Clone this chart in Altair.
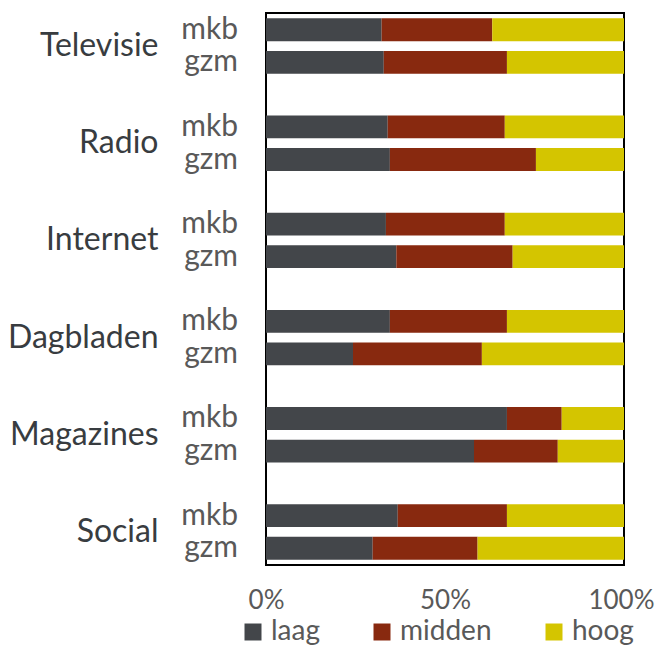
import altair as alt
import pandas as pd

categories = ["Televisie", "Radio", "Internet", "Dagbladen", "Magazines", "Social"]
groups = ["mkb", "gzm"]
levels = ["laag", "midden", "hoog"]

laag_mkb = [32.3, 34.0, 33.5, 34.6, 67.3, 36.8]
midden_mkb = [30.9, 32.7, 33.2, 32.7, 15.3, 30.5]
hoog_mkb = [36.8, 33.3, 33.3, 32.7, 17.4, 32.7]

laag_gzm = [32.9, 34.6, 36.4, 24.3, 58.1, 29.8]
midden_gzm = [34.4, 40.8, 32.5, 36.0, 23.4, 29.3]
hoog_gzm = [32.7, 24.6, 31.1, 39.7, 18.5, 40.9]

colors = ["#43464a", "#88290f", "#d4c500"]

rows = []
series = {
    "mkb": [laag_mkb, midden_mkb, hoog_mkb],
    "gzm": [laag_gzm, midden_gzm, hoog_gzm],
}
for g in groups:
    for li, lvl in enumerate(levels):
        for ci, cat in enumerate(categories):
            rows.append({"cat": cat, "group": g, "level": lvl, "order": li,
                         "value": series[g][li][ci]})
df = pd.DataFrame(rows)
labels_df = pd.DataFrame([{"cat": c, "group": g} for c in categories for g in groups])

FONT = "Lato"

y_enc = alt.Y("cat:N", sort=categories,
              scale=alt.Scale(paddingInner=0.43, paddingOuter=0.055),
              axis=alt.Axis(title=None, ticks=False, domain=False,
                            labelFontSize=32, labelColor="#383c40", labelFont=FONT,
                            labelPadding=108))
yoff_enc = alt.YOffset("group:N", sort=groups,
                       scale=alt.Scale(paddingInner=0.3, paddingOuter=0))

bars = alt.Chart(df).mark_bar().encode(
    x=alt.X("value:Q", stack="zero", scale=alt.Scale(domain=[0, 100]),
            axis=alt.Axis(title=None, values=[0, 50, 100], labelExpr="datum.value + '%'",
                          grid=False, ticks=False, domain=False, labelFlush=False,
                          labelOffset={"condition": {"test": "datum.value == 100", "value": -3},
                                       "value": 0},
                          labelFontSize=26, labelColor="#595959", labelFont=FONT,
                          labelPadding=22)),
    y=y_enc,
    yOffset=yoff_enc,
    color=alt.Color("level:N", sort=levels,
                    scale=alt.Scale(domain=levels, range=colors),
                    legend=alt.Legend(title=None, orient="none", direction="horizontal",
                                      legendX=-27, legendY=605,
                                      symbolType="square", symbolSize=289,
                                      symbolStrokeWidth=0,
                                      labelFontSize=28, labelColor="#595959",
                                      labelFont=FONT, labelOffset=4,
                                      columnPadding=48, padding=0)),
    order=alt.Order("order:Q"),
)

texts = alt.Chart(labels_df).mark_text(align="right", baseline="middle",
                                       fontSize=30, color="#595959", font=FONT).encode(
    x=alt.value(-28),
    y=alt.Y("cat:N", sort=categories),
    yOffset=alt.YOffset("group:N", sort=groups),
    text="group:N",
)

chart = alt.layer(bars, texts).properties(
    width=358, height=552,
    autosize=alt.AutoSizeParams(type="none"),
    padding={"left": 258, "top": 5, "right": 31, "bottom": 81},
).configure_view(stroke="black", strokeWidth=2)

chart.save("out.html", embed_options={"renderer": "svg", "actions": False})
